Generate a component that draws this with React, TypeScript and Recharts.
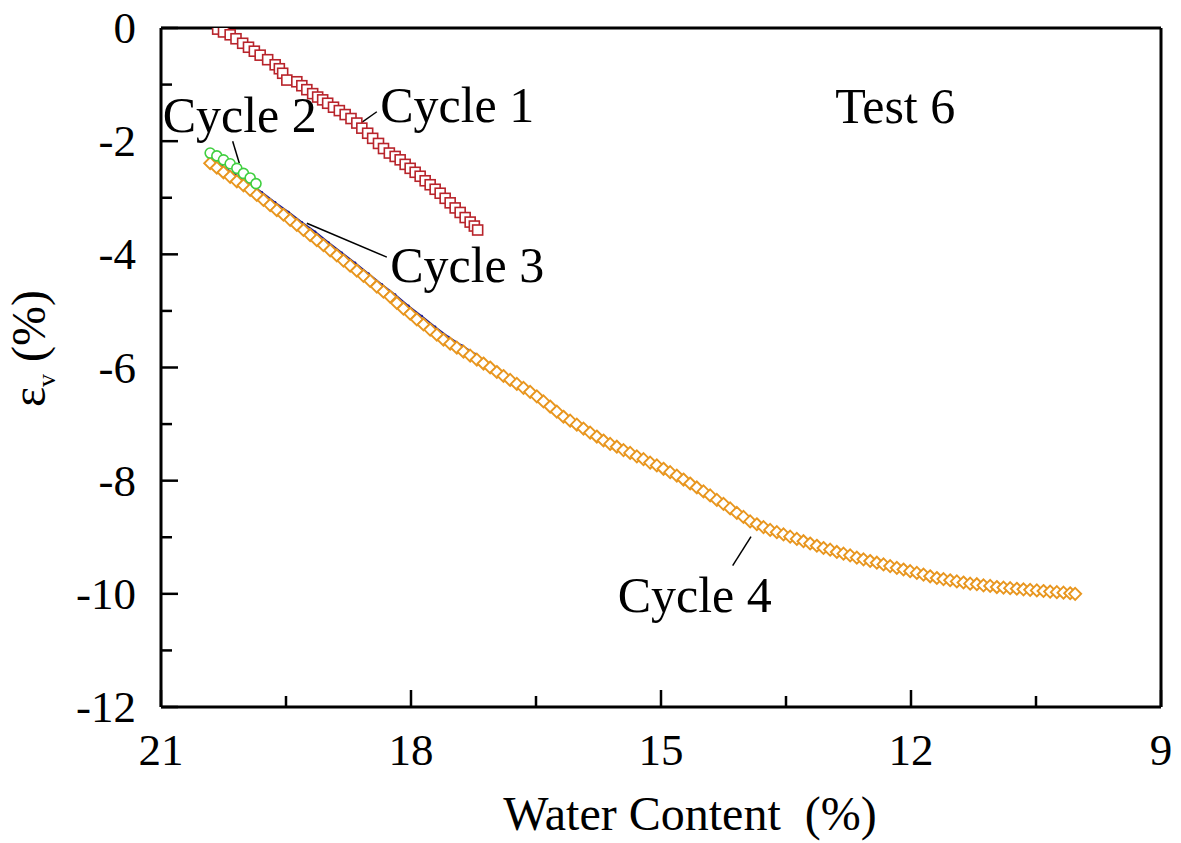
import { ScatterChart, Scatter, XAxis, YAxis, ReferenceLine } from 'recharts'

// Cycle 1 (red squares)
const WATER_1 = [20.32, 20.25, 20.17, 20.1, 20.02, 19.95, 19.88, 19.81, 19.72, 19.63, 19.58, 19.54, 19.49, 19.37, 19.31, 19.25, 19.18, 19.12, 19.06, 19.0, 18.93, 18.86, 18.79, 18.72, 18.65, 18.59, 18.52, 18.46, 18.39, 18.33, 18.26, 18.19, 18.13, 18.07, 18.01, 17.95, 17.89, 17.83, 17.77, 17.71, 17.65, 17.59, 17.53, 17.47, 17.41, 17.35, 17.29, 17.24, 17.2]
const STRAIN_1 = [-0.02, -0.07, -0.12, -0.19, -0.27, -0.34, -0.41, -0.48, -0.56, -0.65, -0.72, -0.8, -0.92, -0.95, -1.02, -1.09, -1.16, -1.22, -1.27, -1.33, -1.4, -1.46, -1.53, -1.6, -1.68, -1.77, -1.86, -1.95, -2.04, -2.13, -2.21, -2.27, -2.33, -2.41, -2.48, -2.55, -2.62, -2.7, -2.77, -2.85, -2.92, -3.01, -3.09, -3.18, -3.26, -3.35, -3.43, -3.5, -3.57]

// Cycle 2 (green circles)
const WATER_2 = [20.41, 20.33, 20.25, 20.17, 20.09, 20.01, 19.93, 19.86]
const STRAIN_2 = [-2.21, -2.26, -2.33, -2.4, -2.48, -2.57, -2.65, -2.75]

// Cycle 3 (blue), runs just above cycle 4
const WATER_3 = [20.43, 20.27, 20.11, 19.95, 19.79, 19.63, 19.47, 19.31, 19.15, 18.99, 18.83, 18.67, 18.51, 18.35, 18.19, 18.03, 17.87, 17.71, 17.55, 17.39, 17.23, 17.17]
const STRAIN_3 = [-2.29, -2.44, -2.58, -2.74, -2.9, -3.08, -3.25, -3.43, -3.6, -3.79, -3.97, -4.15, -4.34, -4.53, -4.71, -4.91, -5.09, -5.28, -5.46, -5.61, -5.76, -5.84]

// Cycle 4 (orange diamonds)
const WATER_4 = [20.41, 20.33, 20.25, 20.17, 20.09, 20.01, 19.93, 19.85, 19.77, 19.69, 19.61, 19.53, 19.45, 19.37, 19.29, 19.21, 19.13, 19.05, 18.97, 18.89, 18.81, 18.73, 18.65, 18.57, 18.49, 18.41, 18.33, 18.25, 18.17, 18.09, 18.01, 17.93, 17.85, 17.77, 17.69, 17.61, 17.53, 17.45, 17.37, 17.29, 17.21, 17.13, 17.05, 16.97, 16.89, 16.81, 16.73, 16.65, 16.57, 16.49, 16.41, 16.33, 16.25, 16.17, 16.09, 16.01, 15.93, 15.85, 15.77, 15.69, 15.61, 15.53, 15.45, 15.37, 15.29, 15.21, 15.13, 15.05, 14.97, 14.89, 14.81, 14.73, 14.65, 14.57, 14.49, 14.41, 14.33, 14.25, 14.17, 14.09, 14.01, 13.93, 13.85, 13.77, 13.69, 13.61, 13.53, 13.45, 13.37, 13.29, 13.21, 13.13, 13.05, 12.97, 12.89, 12.81, 12.73, 12.65, 12.57, 12.49, 12.41, 12.33, 12.25, 12.17, 12.09, 12.01, 11.93, 11.85, 11.77, 11.69, 11.61, 11.53, 11.45, 11.37, 11.29, 11.21, 11.13, 11.05, 10.97, 10.89, 10.81, 10.73, 10.65, 10.57, 10.49, 10.41, 10.33, 10.25, 10.17, 10.09, 10.03]
const STRAIN_4 = [-2.39, -2.47, -2.55, -2.63, -2.71, -2.78, -2.86, -2.95, -3.04, -3.13, -3.22, -3.3, -3.39, -3.48, -3.57, -3.66, -3.75, -3.84, -3.93, -4.02, -4.11, -4.2, -4.29, -4.38, -4.47, -4.57, -4.66, -4.75, -4.86, -4.96, -5.05, -5.15, -5.24, -5.33, -5.42, -5.51, -5.58, -5.65, -5.72, -5.79, -5.86, -5.93, -6.0, -6.08, -6.15, -6.22, -6.29, -6.36, -6.43, -6.51, -6.6, -6.69, -6.78, -6.87, -6.94, -7.01, -7.08, -7.15, -7.22, -7.29, -7.35, -7.4, -7.46, -7.51, -7.57, -7.62, -7.68, -7.73, -7.79, -7.85, -7.91, -7.98, -8.05, -8.12, -8.19, -8.26, -8.34, -8.41, -8.49, -8.57, -8.64, -8.72, -8.77, -8.82, -8.87, -8.91, -8.95, -8.99, -9.03, -9.07, -9.11, -9.15, -9.19, -9.22, -9.26, -9.29, -9.32, -9.36, -9.39, -9.42, -9.45, -9.48, -9.51, -9.54, -9.57, -9.6, -9.63, -9.66, -9.69, -9.72, -9.74, -9.76, -9.78, -9.8, -9.82, -9.83, -9.85, -9.86, -9.88, -9.89, -9.9, -9.91, -9.92, -9.93, -9.94, -9.95, -9.96, -9.97, -9.98, -9.99, -10.0]

const X_TICKS = [21, 19.5, 18, 16.5, 15, 13.5, 12, 10.5, 9]
const Y_TICKS = [0, -1, -2, -3, -4, -5, -6, -7, -8, -9, -10, -11, -12]

// annotation text and leader lines, in data units
const LABELS = [
  { w: 18.37, e: -1.66, text: 'Cycle 1' },
  { w: 20.98, e: -1.84, text: 'Cycle 2' },
  { w: 18.25, e: -4.49, text: 'Cycle 3' },
  { w: 15.52, e: -10.32, text: 'Cycle 4' },
  { w: 12.91, e: -1.68, text: 'Test 6' },
]
const LEADERS = [
  [{ x: 18.65, y: -1.73 }, { x: 18.41, y: -1.48 }],
  [{ x: 20.14, y: -2.0 }, { x: 20.06, y: -2.39 }],
  [{ x: 19.25, y: -3.45 }, { x: 18.29, y: -4.05 }],
  [{ x: 14.14, y: -9.5 }, { x: 13.92, y: -8.99 }],
]

const FONT = 'Liberation Serif, DejaVu Serif, serif'

const toPoints = (w: number[], e: number[]) => w.map((v, i) => ({ w: v, e: e[i] }))

const square = (color: string) => (p: any) => (
  <rect x={p.cx - 5} y={p.cy - 5} width={10} height={10} fill="#fff" stroke={color} strokeWidth={1.6} />
)
const circle = (color: string) => (p: any) => (
  <circle cx={p.cx} cy={p.cy} r={5} fill="#fff" stroke={color} strokeWidth={1.6} />
)
const diamond = (color: string) => (p: any) => (
  <path
    d={`M${p.cx},${p.cy - 6}L${p.cx + 6},${p.cy}L${p.cx},${p.cy + 6}L${p.cx - 6},${p.cy}Z`}
    fill="#fff"
    stroke={color}
    strokeWidth={1.9}
  />
)
const tinyDot = (p: any) => <circle cx={p.cx} cy={p.cy} r={1.2} fill="#1d1d96" />

const XTick = (p: any) => {
  const major = p.payload.value % 3 === 0
  return (
    <g>
      <line x1={p.x} y1={p.y} x2={p.x} y2={p.y - (major ? 17 : 11)} stroke="#000" strokeWidth={2.5} />
      {major && (
        <text x={p.x} y={p.y + 58} textAnchor="middle" fontFamily={FONT} fontSize={45} fill="#000">
          {p.payload.value}
        </text>
      )}
    </g>
  )
}

const YTick = (p: any) => {
  const major = p.payload.value % 2 === 0
  return (
    <g>
      <line x1={p.x} y1={p.y} x2={p.x + (major ? 17 : 11)} y2={p.y} stroke="#000" strokeWidth={2.5} />
      {major && (
        <text x={p.x - 25} y={p.y + 15} textAnchor="end" fontFamily={FONT} fontSize={45} fill="#000">
          {p.payload.value}
        </text>
      )}
    </g>
  )
}

const labelText = (p: any) => (
  <text x={p.cx} y={p.cy} fontFamily={FONT} fontSize={50} fill="#000">
    {p.payload.text}
  </text>
)

export default function App() {
  return (
    <div style={{ position: 'absolute', left: 0, top: 0, background: '#fff' }}>
      <ScatterChart width={1181} height={843} margin={{ top: 28, right: 20, bottom: 0, left: 0 }}>
        <XAxis
          type="number"
          dataKey="w"
          domain={[9, 21]}
          reversed
          allowDataOverflow
          ticks={X_TICKS}
          interval={0}
          tick={<XTick />}
          tickLine={false}
          tickSize={0}
          tickMargin={0}
          axisLine={{ stroke: '#000', strokeWidth: 3 }}
          height={136}
          label={{
            content: (lp: any) => (
              <text
                x={lp.viewBox.x + lp.viewBox.width / 2 + 29}
                y={lp.viewBox.y + 123}
                textAnchor="middle"
                fontFamily={FONT}
                fontSize={48}
                fill="#000"
              >
                Water Content{'\u00a0\u00a0'}(%)
              </text>
            ),
          }}
        />
        <YAxis
          type="number"
          dataKey="e"
          domain={[-12, 0]}
          allowDataOverflow
          ticks={Y_TICKS}
          interval={0}
          tick={<YTick />}
          tickLine={false}
          tickSize={0}
          tickMargin={0}
          axisLine={{ stroke: '#000', strokeWidth: 3 }}
          width={161}
          label={{
            content: (lp: any) => {
              const cx = 45
              const cy = lp.viewBox.y + lp.viewBox.height / 2 - 19
              return (
                <text
                  transform={`rotate(-90 ${cx} ${cy})`}
                  x={cx}
                  y={cy}
                  textAnchor="middle"
                  fontFamily={FONT}
                  fontSize={48}
                  fill="#000"
                >
                  ε
                  <tspan fontSize={26} dy={10}>v</tspan>
                  <tspan dy={-10}>{'\u00a0(%)'}</tspan>
                </text>
              )
            },
          }}
        />
        <ReferenceLine y={0} stroke="#000" strokeWidth={3} />
        <ReferenceLine x={9} stroke="#000" strokeWidth={3} />
        {LEADERS.map((seg, i) => (
          <ReferenceLine key={i} segment={seg} stroke="#000" strokeWidth={1.5} ifOverflow="visible" />
        ))}
        <Scatter data={toPoints(WATER_1, STRAIN_1)} shape={square('#b8242b')} isAnimationActive={false} />
        <Scatter
          data={toPoints(WATER_3, STRAIN_3)}
          line={{ stroke: '#1d1d96', strokeWidth: 1.5 }}
          shape={tinyDot}
          isAnimationActive={false}
        />
        <Scatter data={toPoints(WATER_4, STRAIN_4)} shape={diamond('#e8961f')} isAnimationActive={false} />
        <Scatter data={toPoints(WATER_2, STRAIN_2)} shape={circle('#3fcf3f')} isAnimationActive={false} />
        <Scatter data={LABELS} shape={labelText} isAnimationActive={false} />
      </ScatterChart>
    </div>
  )
}
